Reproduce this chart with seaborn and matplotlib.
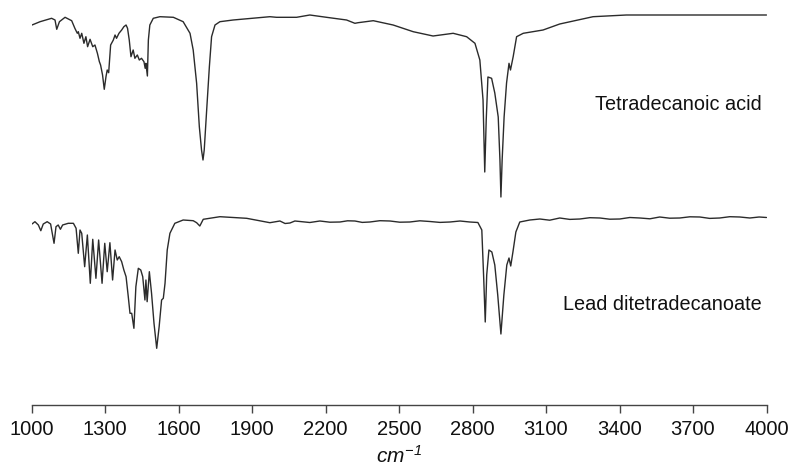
import matplotlib
matplotlib.use("Agg")
import matplotlib.pyplot as plt
import seaborn as sns
import pandas as pd

# ---- data (wavenumber in cm^-1, relative transmittance a.u.) ----
acid_wn = [1002, 1035, 1082, 1096, 1103, 1114, 1137, 1164, 1177, 1187, 1191, 1198, 1205,
           1214, 1222, 1229, 1239, 1250, 1259, 1269, 1277, 1282, 1290, 1297, 1304, 1309,
           1315, 1323, 1334, 1341, 1347, 1357, 1368, 1377, 1386, 1392, 1399, 1406, 1415,
           1422, 1432, 1440, 1449, 1459, 1464, 1467, 1473, 1477, 1483, 1497, 1524, 1579,
           1619, 1647, 1660, 1674, 1685, 1694, 1700, 1705, 1715, 1726, 1735, 1749, 1769,
           1823, 1973, 2000, 2082, 2136, 2204, 2286, 2320, 2333, 2395, 2476, 2558, 2639,
           2721, 2776, 2810, 2830, 2843, 2850, 2856, 2863, 2878, 2891, 2905, 2912, 2916,
           2921, 2929, 2939, 2949, 2955, 2966, 2980, 3007, 3088, 3156, 3292, 3428, 3700,
           4000]
acid_t = [375, 378.3, 381.7, 380, 370.7, 378.3, 382.7, 379.3, 371.7, 366.7, 368.3, 361.7,
          366.7, 356.7, 363.3, 353.3, 360.7, 353.3, 355, 346.7, 338.3, 335, 325, 310.7,
          323.3, 330, 327.3, 355, 360, 365, 361.7, 366.7, 370, 373.3, 375, 371.7, 360,
          343.3, 350, 341.7, 345, 340, 341.7, 338.3, 331.7, 336.7, 324, 360, 375, 381.7,
          383.3, 382.7, 378.3, 366.7, 350, 316.7, 273.3, 250, 240, 250, 290, 333.3, 363.3,
          375, 378.3, 380, 383.3, 382.7, 382.7, 385, 382.7, 380, 376.7, 377.3, 379.3, 375,
          368.3, 364, 366.7, 363.3, 356.7, 340, 300, 228, 280, 323, 321.7, 307, 283, 240,
          203, 240, 283, 317, 336.7, 330, 343.3, 363.3, 366.7, 370, 376, 383.3, 385, 385,
          385]

lead_wn = [1002, 1014, 1028, 1038, 1048, 1064, 1078, 1092, 1100, 1109, 1118, 1127, 1150,
           1171, 1182, 1191, 1198, 1205, 1217, 1228, 1240, 1250, 1263, 1274, 1288, 1299,
           1309, 1320, 1331, 1341, 1350, 1358, 1368, 1377, 1386, 1395, 1402, 1409, 1418,
           1426, 1436, 1446, 1454, 1463, 1467, 1472, 1481, 1490, 1500, 1511, 1521, 1531,
           1538, 1545, 1554, 1565, 1585, 1619, 1660, 1674, 1687, 1701, 1769, 1878, 1973,
           2014, 2035, 2055, 2075, 2095, 2136, 2177, 2218, 2259, 2290, 2320, 2350, 2381,
           2422, 2463, 2503, 2544, 2585, 2626, 2667, 2708, 2749, 2789, 2822, 2838, 2846,
           2852, 2858, 2867, 2879, 2891, 2903, 2916, 2928, 2940, 2949, 2956, 2965, 2977,
           2993, 3034, 3075, 3115, 3156, 3197, 3238, 3279, 3320, 3360, 3401, 3442, 3483,
           3524, 3564, 3605, 3646, 3687, 3728, 3768, 3809, 3850, 3891, 3932, 3970, 4000]
lead_t = [176, 178.3, 175, 169.3, 176, 178.3, 176, 156.7, 173.3, 175, 170.7, 175, 176.7,
          176.7, 171.7, 146.7, 170, 166.7, 133.3, 165, 116.7, 160.7, 121.7, 160, 116.7,
          156.7, 128.3, 157.3, 120, 150, 140, 143.3, 138.3, 130, 123.3, 103.3, 86.7, 86.7,
          71.7, 113.3, 131.7, 130, 123.3, 100, 120, 98.3, 128.3, 106.7, 76.7, 51.7, 73.3,
          100, 101.7, 116.7, 150, 166.7, 176.7, 180, 179.3, 177.3, 174, 180.7, 183.3,
          181.7, 177.3, 179, 176.5, 177, 179, 178.5, 177.5, 179, 177.8, 178, 179.2, 179,
          177.6, 178, 179.3, 179, 177.8, 178, 179.2, 178.5, 177.6, 178, 179, 178, 177.5,
          170, 120, 78, 125, 150, 148, 135, 105, 66, 105, 135, 142, 134, 148, 168, 178,
          180, 181, 179.8, 182, 180.6, 181, 182.3, 182, 180.8, 181, 182.5, 182, 181.2, 183,
          181.8, 182, 183.2, 183, 181.6, 182, 183.3, 183, 182, 183, 182.5]

labels = ["Tetradecanoic acid", "Lead ditetradecanoate"]
xticks = [1000, 1300, 1600, 1900, 2200, 2500, 2800, 3100, 3400, 3700, 4000]

df = pd.concat([
    pd.DataFrame({"wn": acid_wn, "t": acid_t, "series": labels[0]}),
    pd.DataFrame({"wn": lead_wn, "t": lead_t, "series": labels[1]}),
], ignore_index=True)

sns.set_style("white")
plt.rcParams["font.family"] = ["Liberation Sans", "DejaVu Sans"]
plt.rcParams["mathtext.fontset"] = "custom"
plt.rcParams["mathtext.it"] = "Liberation Sans:italic"
plt.rcParams["mathtext.rm"] = "Liberation Sans:italic"

fig = plt.figure(figsize=(7.95, 4.67), dpi=100)
ax = fig.add_axes([31.5 / 795, 62 / 467, 735 / 795, 405 / 467])

line_color = "#2b2b2b"
sns.lineplot(data=df, x="wn", y="t", hue="series", units="series", estimator=None,
             sort=False, palette=[line_color, line_color], linewidth=1.0,
             legend=False, ax=ax)

ax.set_xlim(1000, 4000)
ax.set_ylim(-5, 400)
ax.set_xticks(xticks)
ax.set_xticklabels([str(v) for v in xticks], fontsize=14.5, color="#111111")
ax.set_yticks([])
ax.set_ylabel("")
ax.set_xlabel(r"$cm^{-1}$", fontsize=15, color="#111111", labelpad=4)

for s in ["left", "top", "right"]:
    ax.spines[s].set_visible(False)
ax.spines["bottom"].set_color("#444444")
ax.spines["bottom"].set_linewidth(1.0)
ax.tick_params(axis="x", direction="out", length=6, width=1.0, color="#444444", pad=5,
               bottom=True)

ax.text(3980, 296, labels[0], ha="right", va="center", fontsize=14.3, color="#111111")
ax.text(3980, 95, labels[1], ha="right", va="center", fontsize=14.3, color="#111111")

fig.savefig("out.png", dpi=100, facecolor="white")
